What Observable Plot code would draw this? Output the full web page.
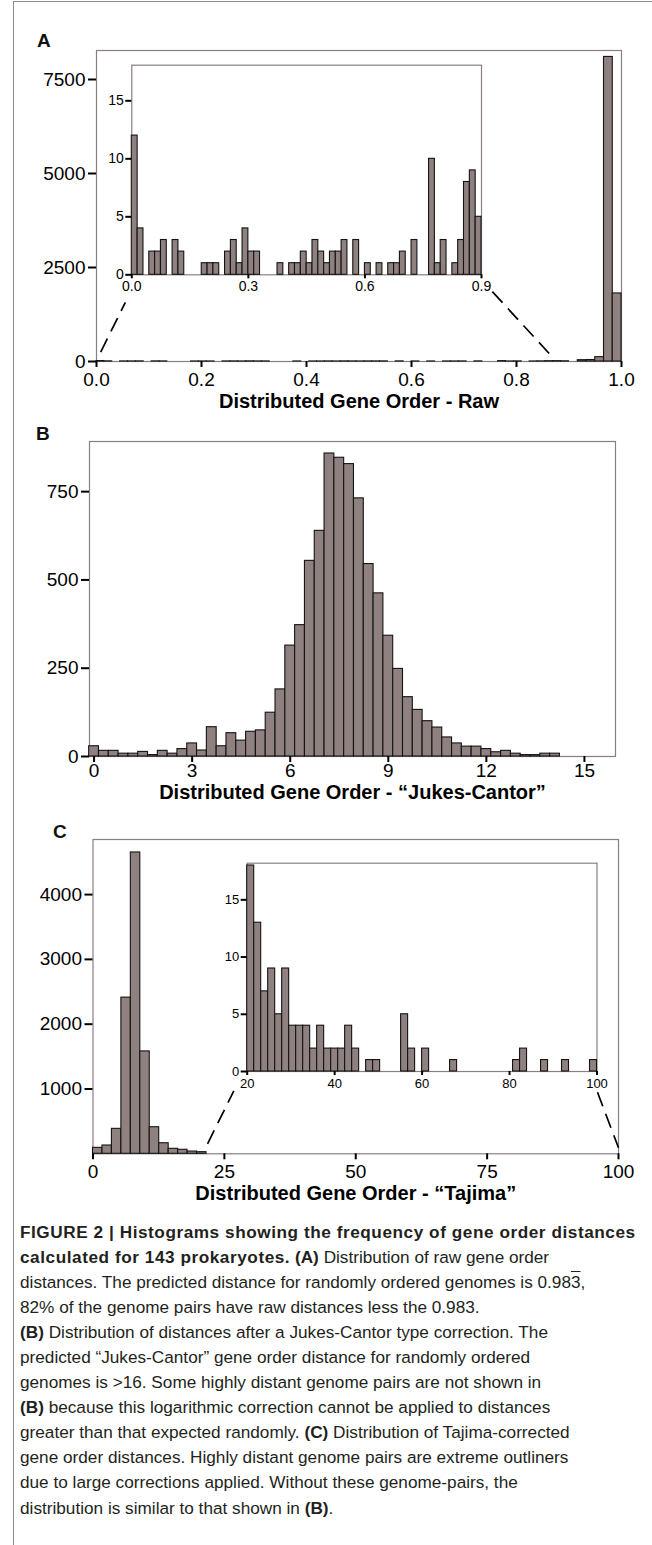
<!DOCTYPE html>
<html>
<head>
<meta charset="utf-8">
<script src="https://cdn.jsdelivr.net/npm/d3@7"></script>
<script src="https://cdn.jsdelivr.net/npm/@observablehq/plot@0.6"></script>
<style>
  body { margin: 0; background: #fff; }
  #page { position: relative; width: 652px; height: 1545px; overflow: hidden;
          font-family: "Liberation Sans", Arial, Helvetica, sans-serif; color: #111; }
  .box { position: absolute; }
  .plabel { position: absolute; font-weight: bold; font-size: 19px; line-height: 1; color: #111; }
  #border { position: absolute; left: 13px; top: 1px; width: 660px; height: 1560px;
            border-left: 1px solid #8c8c8c; border-top: 1px solid #8c8c8c; }
  #caption { position: absolute; left: 20px; top: 1219.5px; width: 640px; white-space: nowrap;
             font-size: 17.2px; line-height: 25.1px; color: #231f20; }
  #caption b { font-weight: bold; }
  #caption .l1 { letter-spacing: 0.55px; }
  .ov { text-decoration: overline; }
</style>
</head>
<body>
<div id="page">
  <div id="border"></div>
  <div class="plabel" style="left:37px;top:31px;">A</div>
  <div class="plabel" style="left:36px;top:424px;">B</div>
  <div class="plabel" style="left:53px;top:822px;">C</div>
  <div class="box" id="panelA" style="left:0;top:0;"></div>
  <div class="box" id="insetA" style="left:100px;top:55px;"></div>
  <div class="box" id="panelB" style="left:0;top:420px;"></div>
  <div class="box" id="panelC" style="left:0;top:800px;"></div>
  <div class="box" id="insetC" style="left:210px;top:850px;"></div>
  <div id="caption">
<b class="l1">FIGURE 2 | Histograms showing the frequency of gene order distances</b><br>
<b class="l1">calculated for 143 prokaryotes.</b> <b>(A)</b> Distribution of raw gene order<br>
distances. The predicted distance for randomly ordered genomes is 0.98<span class="ov">3</span>,<br>
82% of the genome pairs have raw distances less the 0.983.<br>
<b>(B)</b> Distribution of distances after a Jukes-Cantor type correction. The<br>
predicted “Jukes-Cantor” gene order distance for randomly ordered<br>
genomes is &gt;16. Some highly distant genome pairs are not shown in<br>
<b>(B)</b> because this logarithmic correction cannot be applied to distances<br>
greater than that expected randomly. <b>(C)</b> Distribution of Tajima-corrected<br>
gene order distances. Highly distant genome pairs are extreme outliners<br>
due to large corrections applied. Without these genome-pairs, the<br>
distribution is similar to that shown in <b>(B)</b>.
  </div>
</div>
<script>
// ---------------- DATA ----------------
// Panel A: raw distances
const rawTitle = "Distributed Gene Order - Raw";
const rawInsetOrigin = 0.0;
const rawInsetBinWidth = 0.015;
const rawInsetCounts = [12,4,0,2,2,3,0,3,2,0, 0,0,1,1,1,0,2,3,1,4,
                        2,2,0,0,0,1,0,1,1,2, 1,3,2,1,2,2,3,0,3,0,
                        1,0,1,0,1,1,2,0,3,0, 0,10,1,3,0,1,3,8,9,5];
const rawTailStarts = [0.9167, 0.9333, 0.95, 0.9667, 0.9833];
const rawTailWidth = 0.0167;
const rawTailCounts = [35, 40, 115, 8100, 1810];
const rawTicks = [0, 0.2, 0.4, 0.6, 0.8, 1.0];
const rawCountTicks = [0, 2500, 5000, 7500];
const rawInsetTicks = [0, 0.3, 0.6, 0.9];
const rawInsetCountTicks = [0, 5, 10, 15];
const rawZoomFrom = [[0.008, 250], [0.754, 1860]];
const rawZoomTo   = [[0.055, 1575], [0.869, 110]];

// Panel B: Jukes-Cantor corrected distances (bins centred on multiples of 0.3)
const jcTitle = "Distributed Gene Order - “Jukes-Cantor”";
const jcBinWidth = 0.3;
const jcCounts = [29,16,16,8,8,13,4,16,8,21, 37,17,83,29,66,45,70,74,124,190,
                  314,372,554,639,858,846,828,731,545,462, 342,248,168,132,100,82,54,37,28,28,
                  21,12,16,8,4,4,8,8,0,0, 0,0,0,0];
const jcTicks = [0, 3, 6, 9, 12, 15];
const jcCountTicks = [0, 250, 500, 750];

// Panel C: Tajima corrected distances
const tjTitle = "Distributed Gene Order - “Tajima”";
const tjBinWidth = 1.8;
const tjCounts = [92, 128, 385, 2410, 4650, 1580, 410, 163, 77, 62, 35, 25];
const tjTicks = [0, 25, 50, 75, 100];
const tjCountTicks = [1000, 2000, 3000, 4000];
const tjInsetOrigin = 20;
const tjInsetBinWidth = 1.6;
const tjInsetCounts = [18,13,7,9,5,9,4,4,4,2, 4,2,2,2,4,2,0,1,1,0,
                       0,0,5,2,0,2,0,0,0,1, 0,0,0,0,0,0,0,0,1,2,
                       0,0,1,0,0,1,0,0,0,1];
const tjInsetTicks = [20, 40, 60, 80, 100];
const tjInsetCountTicks = [0, 5, 10, 15];
const tjZoomFrom = [[21.8, 154], [96.0, 950]];
const tjZoomTo   = [[26.8, 972], [100, 93]];

// ---------------- STYLE ----------------
const FONT = '"Liberation Sans", Arial, Helvetica, sans-serif';
const BAR_FILL = "#8e817f";
const BAR_STROKE = "#141414";
const FRAME = "#8a7f7d";
const baseStyle = {fontFamily: FONT, color: "#000", background: "transparent", overflow: "visible"};
const plain = d => String(d);

function bins(starts, counts, width) {
  return counts.map((n, i) => ({x1: starts[i], x2: starts[i] + width, n})).filter(d => d.n > 0);
}
function regularStarts(origin, width, count) {
  return Array.from({length: count}, (_, i) => origin + i * width);
}
function links(from, to) {
  return from.map((f, i) => ({x1: f[0], y1: f[1], x2: to[i][0], y2: to[i][1]}));
}
const barOpts = {x1: "x1", x2: "x2", y1: 0, y2: "n", fill: BAR_FILL, stroke: BAR_STROKE, strokeWidth: 1.1};

// ---------------- PANEL A ----------------
const rawInsetBars = bins(regularStarts(rawInsetOrigin, rawInsetBinWidth, rawInsetCounts.length), rawInsetCounts, rawInsetBinWidth);
const rawMainBars = rawInsetBars.concat(bins(rawTailStarts, rawTailCounts, rawTailWidth));

document.getElementById("panelA").append(Plot.plot({
  width: 652, height: 415, marginTop: 50, marginBottom: 54, marginLeft: 96, marginRight: 31,
  style: baseStyle,
  x: {domain: [0, 1], axis: null},
  y: {domain: [0, 8271], axis: null},
  marks: [
    Plot.frame({stroke: FRAME, strokeWidth: 1.2}),
    Plot.rect(rawMainBars, barOpts),
    Plot.axisX({ticks: rawTicks, tickFormat: ".1f", tickSize: 6, tickPadding: 5, fontSize: 19, strokeWidth: 2, label: null}),
    Plot.axisY({ticks: rawCountTicks, tickFormat: plain, tickSize: 8, tickPadding: 3, fontSize: 19, strokeWidth: 2, label: null}),
    Plot.link(links(rawZoomFrom, rawZoomTo), {x1: "x1", y1: "y1", x2: "x2", y2: "y2", stroke: "#000", strokeWidth: 1.7, strokeDasharray: "15,8"}),
    Plot.text([rawTitle], {text: d => d, frameAnchor: "bottom", dy: 46, lineAnchor: "bottom", fontSize: 20, fontWeight: "bold"})
  ]
}));

document.getElementById("insetA").append(Plot.plot({
  width: 400, height: 245, marginTop: 9.7, marginBottom: 25.7, marginLeft: 31.3, marginRight: 19,
  style: baseStyle,
  x: {domain: [0, 0.9], axis: null},
  y: {domain: [0, 18.07], axis: null},
  marks: [
    Plot.frame({stroke: FRAME, strokeWidth: 1.2}),
    Plot.rect(rawInsetBars, barOpts),
    Plot.axisX({ticks: rawInsetTicks, tickFormat: ".1f", tickSize: 4, tickPadding: 2, fontSize: 14, strokeWidth: 2, label: null}),
    Plot.axisY({ticks: rawInsetCountTicks, tickFormat: plain, tickSize: 6, tickPadding: 2, fontSize: 14, strokeWidth: 2, label: null})
  ]
}));

// ---------------- PANEL B ----------------
const jcBars = bins(regularStarts(-jcBinWidth / 2, jcBinWidth, jcCounts.length), jcCounts, jcBinWidth);
document.getElementById("panelB").append(Plot.plot({
  width: 652, height: 380, marginTop: 21, marginBottom: 44, marginLeft: 89, marginRight: 37,
  style: baseStyle,
  x: {domain: [-0.14, 15.95], axis: null},
  y: {domain: [0, 892], axis: null},
  marks: [
    Plot.frame({stroke: FRAME, strokeWidth: 1.2}),
    Plot.rect(jcBars, barOpts),
    Plot.axisX({ticks: jcTicks, tickFormat: plain, tickSize: 6, tickPadding: 1, fontSize: 19, strokeWidth: 2, label: null}),
    Plot.axisY({ticks: jcCountTicks, tickFormat: plain, tickSize: 8, tickPadding: 3, fontSize: 19, strokeWidth: 2, label: null}),
    Plot.text([jcTitle], {text: d => d, frameAnchor: "bottom", dy: 42, lineAnchor: "bottom", fontSize: 20, fontWeight: "bold"})
  ]
}));

// ---------------- PANEL C ----------------
const tjBars = bins(regularStarts(0, tjBinWidth, tjCounts.length), tjCounts, tjBinWidth);
const tjInsetBars = bins(regularStarts(tjInsetOrigin, tjInsetBinWidth, tjInsetCounts.length), tjInsetCounts, tjInsetBinWidth);

document.getElementById("panelC").append(Plot.plot({
  width: 652, height: 415, marginTop: 39, marginBottom: 61.7, marginLeft: 92.5, marginRight: 34,
  style: baseStyle,
  x: {domain: [0, 100], axis: null},
  y: {domain: [0, 4850], axis: null},
  marks: [
    Plot.frame({stroke: FRAME, strokeWidth: 1.2}),
    Plot.rect(tjBars, barOpts),
    Plot.axisX({ticks: tjTicks, tickFormat: plain, tickSize: 6, tickPadding: 5, fontSize: 19, strokeWidth: 2, label: null}),
    Plot.axisY({ticks: tjCountTicks, tickFormat: plain, tickSize: 8, tickPadding: 3, fontSize: 19, strokeWidth: 2, label: null}),
    Plot.link(links(tjZoomFrom, tjZoomTo), {x1: "x1", y1: "y1", x2: "x2", y2: "y2", stroke: "#000", strokeWidth: 1.7, strokeDasharray: "15,8"}),
    Plot.text([tjTitle], {text: d => d, frameAnchor: "bottom", dy: 46, lineAnchor: "bottom", fontSize: 20, fontWeight: "bold"})
  ]
}));

document.getElementById("insetC").append(Plot.plot({
  width: 410, height: 250, marginTop: 12.7, marginBottom: 29, marginLeft: 36.7, marginRight: 23.5,
  style: baseStyle,
  x: {domain: [20, 100], axis: null},
  y: {domain: [0, 18.2], axis: null},
  marks: [
    Plot.frame({stroke: FRAME, strokeWidth: 1.2}),
    Plot.rect(tjInsetBars, barOpts),
    Plot.axisX({ticks: tjInsetTicks, tickFormat: plain, tickSize: 4, tickPadding: 3, fontSize: 13, strokeWidth: 2, label: null}),
    Plot.axisY({ticks: tjInsetCountTicks, tickFormat: plain, tickSize: 6, tickPadding: 2, fontSize: 13, strokeWidth: 2, label: null})
  ]
}));
</script>
</body>
</html>
